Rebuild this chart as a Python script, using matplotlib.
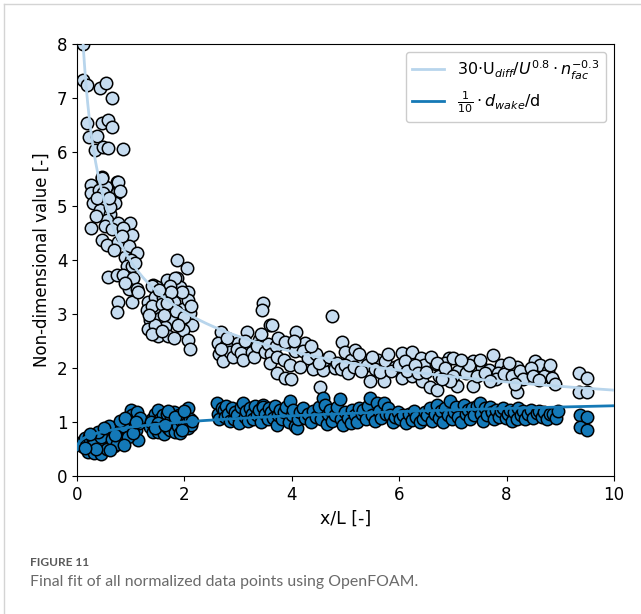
import numpy as np
import matplotlib
matplotlib.use("Agg")
import matplotlib.pyplot as plt
from matplotlib.lines import Line2D

# ---- normalized velocity-deficit data (x/L, value) ----
udiff_x = [
    0.12, 0.12, 0.18, 0.43, 0.54, 0.66, 0.18, 0.23, 0.37, 0.46, 0.58, 0.65, 0.34, 0.49, 0.58, 0.86,
    0.46, 0.27, 0.75, 0.27, 0.41, 0.54, 0.46, 0.77, 0.49, 0.74, 0.81, 0.30, 0.49, 0.71, 0.43, 0.61,
    0.55, 0.27, 0.53, 0.77, 0.99, 0.65, 0.86, 1.02, 0.46, 0.55, 0.77, 0.68, 0.96, 1.11, 0.89, 1.00,
    0.93, 1.02, 0.58, 0.74, 0.86, 1.05, 0.96, 1.11, 1.02, 0.77, 0.74, 0.38, 0.62, 0.84, 1.08, 0.90,
    1.14, 0.35, 0.60,
    1.86, 2.04, 1.42, 1.49, 1.67, 1.86, 1.92, 2.07, 1.39, 1.82, 1.73, 1.33, 1.45, 1.60, 1.80, 1.98,
    2.06, 1.30, 1.52, 1.71, 1.92, 2.10, 1.36, 1.55, 1.77, 1.95, 2.14, 1.33, 1.64, 1.98, 1.51, 1.70,
    2.07, 2.10, 1.40, 1.58, 1.85, 2.00, 1.46, 1.62, 1.88, 1.40, 1.80, 1.58, 1.95, 1.75, 1.52, 2.12,
    1.68, 1.35,
    2.69, 3.16, 3.47, 3.44, 3.59, 2.63, 2.77, 3.00, 3.20, 3.38, 3.80, 2.65, 2.72, 2.85, 2.90, 2.98,
    3.05, 3.10, 3.25, 3.30, 3.35, 3.50, 3.55, 3.62, 2.80, 3.12, 3.42, 2.68, 3.70, 3.75, 3.60,
    3.63, 4.08, 3.87, 4.25, 4.74, 4.93, 3.72, 3.85, 3.97, 4.06, 4.20, 3.72, 3.87, 3.98, 4.40, 4.59,
    4.52, 4.60, 4.80, 4.99, 5.10, 5.18, 5.33, 5.46, 5.71, 5.60, 5.74, 5.92, 6.05, 6.05, 6.23, 6.23,
    6.40, 6.46, 6.42, 6.57, 6.69, 6.80, 6.93, 4.30, 4.45, 4.50, 4.70, 4.85, 4.92, 5.00, 5.05, 5.25,
    5.40, 5.50, 5.55, 5.65, 5.80, 5.85, 6.00, 6.10, 6.15, 6.30, 6.35, 6.50, 6.60, 6.75, 6.85, 4.15,
    4.35, 4.05, 5.15, 5.28,
    6.70, 6.85, 7.01, 7.20, 7.38, 7.75, 7.90, 7.54, 7.68, 7.84, 8.00, 8.19, 8.38, 8.53, 8.62, 8.78,
    8.87, 8.19, 6.70, 7.07, 7.38, 9.34, 9.49, 9.34, 9.49, 7.10, 7.25, 7.30, 7.45, 7.50, 7.60, 7.80,
    7.95, 8.05, 8.10, 8.25, 8.30, 8.45, 8.50, 8.70, 8.80, 8.85, 7.00, 6.95, 7.15, 8.60, 8.15, 7.70,
    8.90, 6.80,
]
udiff_y = [
    8.00, 7.33, 7.24, 7.18, 7.27, 7.00, 6.53, 6.28, 6.30, 6.53, 6.60, 6.46, 6.04, 6.10, 6.07, 6.06,
    5.54, 5.39, 5.45, 5.24, 5.30, 5.35, 5.51, 5.45, 5.24, 5.24, 5.27, 5.05, 5.05, 5.05, 4.93, 4.86,
    4.74, 4.59, 4.62, 4.68, 4.68, 4.57, 4.59, 4.46, 4.37, 4.28, 4.34, 4.19, 4.25, 4.12, 4.06, 4.00,
    3.88, 3.88, 3.69, 3.72, 3.72, 3.66, 3.47, 3.47, 3.23, 3.23, 3.04, 5.15, 4.98, 4.45, 3.95, 3.58,
    3.40, 4.82, 5.15,
    4.00, 3.85, 3.54, 3.50, 3.63, 3.66, 3.50, 3.41, 3.51, 3.66, 3.51, 3.23, 3.32, 3.32, 3.23, 3.10,
    3.26, 3.07, 3.04, 3.07, 2.98, 3.01, 2.89, 2.92, 2.89, 2.86, 2.80, 2.73, 2.76, 2.70, 2.59, 2.59,
    2.52, 2.35, 3.15, 3.18, 3.05, 2.95, 2.80, 2.98, 2.80, 2.62, 2.55, 2.68, 3.40, 3.40, 3.45, 3.15,
    3.20, 2.98,
    2.67, 2.67, 3.20, 3.08, 2.80, 2.46, 2.42, 2.46, 2.37, 2.52, 2.49, 2.25, 2.12, 2.30, 2.20, 2.35,
    2.28, 2.15, 2.30, 2.20, 2.40, 2.30, 2.45, 2.25, 2.55, 2.50, 2.62, 2.35, 2.40, 2.55, 2.10,
    2.80, 2.66, 2.49, 2.46, 2.97, 2.49, 2.21, 2.14, 2.06, 2.31, 2.31, 1.90, 1.81, 1.80, 1.99, 1.96,
    1.65, 2.15, 2.00, 2.30, 2.15, 2.33, 2.15, 1.75, 1.75, 2.15, 2.12, 2.02, 1.81, 2.27, 2.30, 1.85,
    2.18, 2.05, 1.75, 1.65, 2.08, 2.00, 2.18, 2.18, 2.25, 2.10, 2.20, 2.10, 1.98, 2.05, 1.90, 2.25,
    2.05, 2.20, 1.98, 1.92, 2.25, 1.95, 2.05, 2.12, 1.95, 2.05, 1.90, 1.92, 2.20, 1.85, 2.10, 2.02,
    2.40, 2.50, 2.02, 1.95,
    2.09, 2.00, 2.18, 2.09, 2.12, 2.24, 2.05, 2.00, 1.97, 1.91, 1.97, 2.02, 1.91, 2.12, 2.05, 1.94,
    1.75, 1.56, 1.60, 1.66, 1.66, 1.90, 1.81, 1.56, 1.56, 1.95, 1.90, 2.05, 1.85, 2.15, 1.90, 1.80,
    1.88, 2.10, 1.85, 1.95, 1.80, 2.00, 1.85, 1.85, 2.05, 1.82, 1.85, 1.75, 2.15, 1.78, 1.70, 1.75,
    1.70, 1.80,
]

# ---- normalized wake-width data (x/L, value) ----
wake_x = [
    0.10, 0.12, 0.15, 0.18, 0.20, 0.22, 0.25, 0.28, 0.30, 0.32, 0.35, 0.38, 0.40, 0.42, 0.45, 0.48,
    0.50, 0.52, 0.55, 0.58, 0.60, 0.62, 0.65, 0.68, 0.70, 0.72, 0.75, 0.78, 0.80, 0.82, 0.85, 0.88,
    0.90, 0.92, 0.95, 0.98, 1.00, 1.02, 1.05, 1.08, 1.10, 1.12, 1.14, 1.15, 1.18, 0.30, 0.45, 0.55,
    0.65, 0.75, 0.85, 0.95, 1.05, 0.40, 0.60, 0.80, 0.25, 0.35, 0.50, 0.70, 0.90, 1.10, 0.15, 0.62,
    0.88,
    1.36, 1.40, 1.42, 1.45, 1.48, 1.51, 1.51, 1.55, 1.58, 1.60, 1.62, 1.65, 1.67, 1.70, 1.73, 1.75,
    1.78, 1.80, 1.82, 1.85, 1.86, 1.88, 1.90, 1.92, 1.95, 1.98, 2.00, 2.02, 2.05, 2.07, 2.07, 2.10,
    2.12, 2.15, 1.38, 1.50, 1.70, 1.95, 1.45, 1.63, 1.83, 2.00,
    2.60, 2.62, 2.65, 2.70, 2.73, 2.75, 2.78, 2.82, 2.85, 2.88, 2.92, 2.95, 2.98, 3.02, 3.05, 3.10,
    3.12, 3.15, 3.18, 3.22, 3.25, 3.28, 3.32, 3.35, 3.38, 3.42, 3.47, 3.47, 3.50, 3.55, 3.58, 3.62,
    3.65, 3.68, 3.72, 3.75, 3.78, 3.82, 3.85, 3.90, 3.94, 3.97, 4.00, 4.03, 4.06, 4.10, 4.12, 4.15,
    4.20, 4.25, 4.30, 4.35, 4.40, 4.45, 4.50, 4.55, 4.59, 4.62, 4.65, 4.68, 4.72, 4.75, 4.80, 4.85,
    4.90, 4.92, 4.96, 5.00, 5.05, 5.10, 5.12, 5.18, 5.22, 5.25, 5.30, 5.33, 5.38, 5.42, 5.46, 5.50,
    5.55, 5.58, 5.62, 5.66, 5.71, 5.75, 5.80, 5.83, 5.88, 5.92, 5.98, 6.02, 6.08, 6.12, 6.18, 6.23,
    6.28, 6.32, 6.38, 6.45, 6.48, 6.52, 6.58, 6.62, 6.66, 6.70, 6.74, 6.78, 6.82, 6.86, 6.90, 6.95,
    6.98, 7.02, 7.06, 7.10, 7.15, 7.20, 7.24, 7.28, 7.32, 7.36, 7.40, 7.45, 7.50, 7.52, 7.56, 7.60,
    7.64, 7.69, 7.72, 7.76, 7.80, 7.85, 7.90, 7.94, 7.98, 8.02, 8.06, 8.10, 8.14, 8.19, 8.22, 8.26,
    8.30, 8.35, 8.40, 8.45, 8.50, 8.56, 8.60, 8.65, 8.70, 8.75, 8.80, 8.87, 8.92, 8.95,
    9.37, 9.49, 9.37, 9.49,
]
wake_y = [
    0.55, 0.65, 0.70, 0.60, 0.45, 0.72, 0.62, 0.55, 0.68, 0.42, 0.75, 0.60, 0.50, 0.70, 0.40, 0.80,
    0.65, 0.58, 0.75, 0.85, 0.62, 0.72, 0.80, 0.55, 0.90, 0.68, 0.78, 0.88, 0.62, 0.95, 0.75, 0.85,
    0.70, 1.00, 0.82, 0.92, 1.22, 1.12, 0.95, 1.05, 0.85, 1.18, 0.67, 0.98, 1.08, 0.58, 0.72, 0.50,
    0.68, 0.60, 0.92, 0.72, 0.80, 0.82, 0.92, 1.02, 0.78, 0.50, 0.88, 0.75, 1.08, 1.00, 0.52, 0.48,
    0.58,
    0.91, 1.05, 0.82, 1.15, 0.95, 1.22, 0.82, 1.05, 0.90, 1.12, 0.78, 1.00, 1.14, 0.88, 0.85, 1.08,
    0.95, 1.18, 0.82, 1.02, 1.05, 0.92, 1.12, 0.80, 1.00, 1.08, 0.92, 1.15, 0.98, 1.25, 0.88, 1.05,
    0.95, 1.02, 1.00, 0.98, 1.20, 0.85, 0.88, 0.95, 1.10, 1.20,
    1.35, 1.15, 1.05, 1.25, 1.22, 1.10, 1.30, 1.15, 1.02, 1.25, 1.05, 1.18, 1.12, 0.98, 1.28, 1.35,
    1.10, 1.20, 1.02, 1.25, 1.15, 1.05, 1.30, 1.12, 1.22, 1.00, 1.31, 1.28, 1.15, 1.05, 1.25, 1.18,
    1.08, 1.30, 0.94, 1.12, 1.22, 1.05, 1.18, 1.28, 1.00, 1.38, 1.12, 1.22, 0.93, 0.88, 1.05, 1.18,
    1.25, 1.08, 1.15, 1.00, 1.20, 1.10, 1.28, 1.05, 1.44, 1.32, 0.96, 1.15, 1.22, 1.02, 1.12, 1.28,
    1.42, 1.05, 0.95, 1.18, 1.08, 0.98, 1.22, 1.12, 1.00, 1.25, 1.15, 1.22, 1.05, 1.30, 1.44, 1.12,
    1.02, 1.35, 1.20, 1.08, 1.35, 1.15, 1.25, 1.13, 1.00, 1.10, 1.18, 1.05, 1.12, 0.98, 1.15, 1.04,
    1.20, 1.10, 1.00, 1.06, 1.18, 1.12, 1.25, 1.02, 1.15, 1.31, 1.08, 1.20, 1.00, 1.25, 1.12, 1.38,
    1.05, 1.18, 1.28, 1.10, 1.00, 1.31, 1.15, 1.22, 1.05, 1.25, 1.12, 1.30, 1.35, 1.15, 1.02, 1.25,
    1.12, 1.28, 1.18, 1.05, 1.22, 1.10, 1.20, 1.25, 1.08, 1.15, 1.22, 1.02, 1.18, 1.06, 1.25, 1.12,
    1.20, 1.05, 1.15, 1.22, 1.08, 1.16, 1.20, 1.10, 1.18, 1.05, 1.15, 1.14, 1.08, 1.20,
    1.13, 1.10, 0.91, 0.86,
]

# ---- fitted models ----
# velocity deficit: A * (x + x0)^(-b)
udiff_fit_A, udiff_fit_x0, udiff_fit_b = 4.11, 0.0836, 0.411
# wake width: c + A * x^b
wake_fit_c, wake_fit_A, wake_fit_b = 0.395, 0.509, 0.25

light_fill = "#c6dcf0"
light_line = "#b8d5ec"
dark_fill = "#1479b8"
dark_line = "#1579b6"

fig = plt.figure(figsize=(6.41, 6.14), dpi=100)
ax = fig.add_axes([0.1201, 0.2248, 0.8378, 0.7036])

ax.scatter(udiff_x, udiff_y, s=80, c=light_fill, edgecolors="black", linewidths=1.1, zorder=2)
ax.scatter(wake_x, wake_y, s=80, c=dark_fill, edgecolors="black", linewidths=1.1, zorder=2)

xf1 = np.linspace(0.1, 10, 400)
ax.plot(xf1, udiff_fit_A * (xf1 + udiff_fit_x0) ** (-udiff_fit_b), color=light_line, lw=2.0,
        zorder=3, label=r"30$\cdot$U$_{diff}$/$U^{0.8}\cdot n_{fac}^{-0.3}$")
xf2 = np.geomspace(0.001, 10, 400)
ax.plot(xf2, wake_fit_c + wake_fit_A * xf2 ** wake_fit_b, color=dark_line, lw=2.0,
        zorder=3, label=r"$\frac{1}{10}\cdot d_{wake}$/d")

ax.set_xlim(0, 10)
ax.set_ylim(0, 8)
ax.set_xticks([0, 2, 4, 6, 8, 10])
ax.set_yticks(range(0, 9))
ax.tick_params(labelsize=12)
ax.set_xlabel("x/L [-]", fontsize=12.5)
ax.set_ylabel("Non-dimensional value [-]", fontsize=12)
ax.legend(loc="upper right", fontsize=11.5, framealpha=1.0)

# frame lines of the figure panel
fig.add_artist(Line2D([0.006, 0.006], [0.0, 0.994], color="#d4d4d4", lw=1.0))
fig.add_artist(Line2D([0.006, 1.0], [0.994, 0.994], color="#d4d4d4", lw=1.0))

fig.text(30 / 641, 1 - 566 / 614, "FIGURE 11", fontsize=8.6, color="#5a5a5a",
         family="Lato", weight="bold", va="baseline")
fig.text(30 / 641, 1 - 586 / 614, "Final fit of all normalized data points using OpenFOAM.",
         fontsize=11.4, color="#6a6a6a", family="Lato", va="baseline")

fig.savefig("out.png", dpi=100)
